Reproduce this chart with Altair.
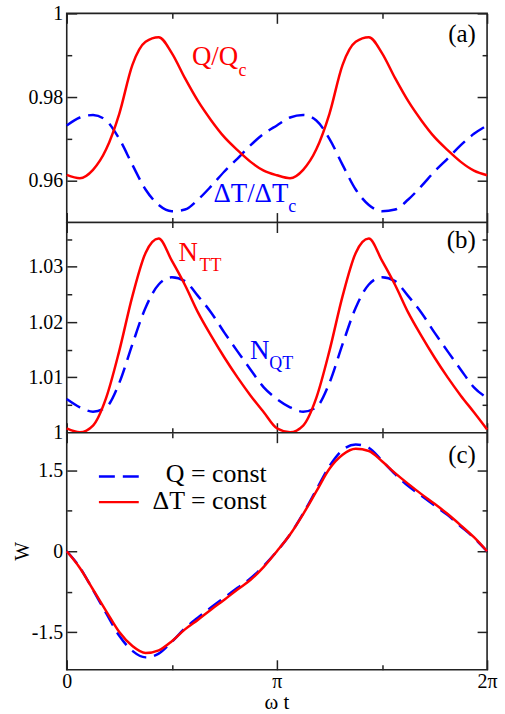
import altair as alt
import pandas as pd

# ---------------- data ----------------
# omega t in units of pi
t_pi = [0.0, 0.0625, 0.125, 0.1875, 0.25, 0.3125, 0.375, 0.4375, 0.5, 0.5625,
        0.625, 0.6875, 0.75, 0.8125, 0.875, 0.9375, 1.0, 1.0625, 1.125, 1.1875,
        1.25, 1.3125, 1.375, 1.4375, 1.5, 1.5625, 1.625, 1.6875, 1.75, 1.8125,
        1.875, 1.9375, 2.0]

# panel (a)
q_ratio = [0.9614, 0.9606, 0.9626, 0.9675, 0.9760, 0.9877, 0.9932, 0.9943, 0.9905,
           0.9845, 0.9790, 0.9744, 0.9704, 0.9673, 0.9645, 0.9624, 0.9613, 0.9606,
           0.9626, 0.9675, 0.9760, 0.9877, 0.9932, 0.9943, 0.9905, 0.9845, 0.9790,
           0.9744, 0.9704, 0.9673, 0.9645, 0.9624, 0.9613]
dt_ratio = [0.9732, 0.9751, 0.9757, 0.9744, 0.9700, 0.9638, 0.9579, 0.9542, 0.9527,
            0.9531, 0.9555, 0.9587, 0.9622, 0.9653, 0.9685, 0.9712, 0.9732, 0.9751,
            0.9757, 0.9744, 0.9700, 0.9638, 0.9579, 0.9542, 0.9527, 0.9531, 0.9555,
            0.9587, 0.9622, 0.9653, 0.9685, 0.9712, 0.9732]

# panel (b)
n_tt = [1.0008, 1.0001, 1.0013, 1.0063, 1.0148, 1.0247, 1.0325, 1.0351, 1.0311,
        1.0267, 1.0217, 1.0175, 1.0136, 1.0100, 1.0067, 1.0037, 1.0008, 1.0001,
        1.0013, 1.0063, 1.0148, 1.0247, 1.0325, 1.0351, 1.0311, 1.0267, 1.0217,
        1.0175, 1.0136, 1.0100, 1.0067, 1.0037, 1.0006]
n_qt = [1.0061, 1.0046, 1.0038, 1.0046, 1.0090, 1.0160, 1.0226, 1.0268, 1.0281,
        1.0274, 1.0247, 1.0217, 1.0181, 1.0147, 1.0114, 1.0082, 1.0061, 1.0046,
        1.0038, 1.0046, 1.0090, 1.0160, 1.0226, 1.0268, 1.0281, 1.0274, 1.0247,
        1.0217, 1.0181, 1.0147, 1.0114, 1.0082, 1.0063]

# panel (c)
w_dt = [0.0, -0.31, -0.71, -1.11, -1.50, -1.76, -1.89, -1.84, -1.67, -1.45, -1.27,
        -1.08, -0.90, -0.71, -0.53, -0.29, 0.0, 0.31, 0.69, 1.11, 1.53, 1.79, 1.90,
        1.86, 1.67, 1.45, 1.25, 1.06, 0.88, 0.69, 0.48, 0.26, 0.0]
w_q = [0.0, -0.30, -0.72, -1.15, -1.57, -1.85, -1.97, -1.90, -1.68, -1.43, -1.23,
       -1.04, -0.86, -0.68, -0.50, -0.27, 0.0, 0.31, 0.70, 1.14, 1.58, 1.88, 1.98,
       1.92, 1.68, 1.43, 1.21, 1.03, 0.85, 0.67, 0.46, 0.25, 0.0]

x_major = [0, 1, 2]
x_minor = [0.5, 1.5]
ya_major = [0.96, 0.98, 1.0]
ya_minor = [0.95, 0.97, 0.99]
yb_major = [1.0, 1.01, 1.02, 1.03]
yb_minor = [1.005, 1.015, 1.025, 1.035]
yc_major = [-1.5, 0, 1.5]
yc_minor = [-0.75, 0.75]

# ---------------- styling ----------------
RED = "#ff0000"
BLUE = "#0000ff"
FRAME = "#222222"
SERIF = "Liberation Serif"
W = 422
ONE = pd.DataFrame({"k": [0]})


def x_axis(orient, values, size, labels=False):
    kw = dict(orient=orient, values=values, tickSize=size, offset=-size,
              labels=labels, domain=False, grid=False, ticks=True,
              tickColor=FRAME, tickWidth=1.5, labelFlush=False)
    if labels:
        kw.update(labelExpr="datum.value == 0 ? '0' : (datum.value == 1 ? 'π' : '2π')",
                  labelFont=SERIF, labelFontSize=20, labelColor="black",
                  labelPadding=2)
    return alt.Axis(**kw)


def y_axis(orient, values, size, labels=False):
    kw = dict(orient=orient, values=values, tickSize=size, offset=-size,
              labels=labels, domain=False, grid=False, ticks=True,
              tickColor=FRAME, tickWidth=1.5)
    if labels:
        kw.update(labelExpr="'' + datum.value", labelFont=SERIF,
                  labelFontSize=20, labelColor="black", labelPadding=4)
    return alt.Axis(**kw)


def text(s, x, y, size, color, align="left", angle=None):
    kw = dict(text=s, align=align, baseline="alphabetic", fontSize=size,
              color=color, font=SERIF)
    if angle is not None:
        kw["angle"] = angle
    return alt.Chart(ONE).mark_text(**kw).encode(x=alt.value(x), y=alt.value(y))


def panel(df, ydom, ymajor, yminor, height, xlabels, extras):
    xs = alt.Scale(domain=[0, 2], nice=False, zero=False)
    ys = alt.Scale(domain=ydom, nice=False, zero=False)
    blue = alt.Chart(df).mark_line(color=BLUE, strokeWidth=2.5, strokeDash=[16, 8],
                                   interpolate="monotone").encode(
        x=alt.X("t:Q", scale=xs, axis=x_axis("top", x_major, 10), title=None),
        y=alt.Y("blue:Q", scale=ys, axis=y_axis("right", ymajor, 10), title=None))
    red = alt.Chart(df).mark_line(color=RED, strokeWidth=2.5,
                                  interpolate="monotone").encode(
        x=alt.X("t:Q", scale=xs, axis=x_axis("bottom", x_major, 10, xlabels), title=None),
        y=alt.Y("red:Q", scale=ys, axis=y_axis("left", ymajor, 10, True), title=None))
    m1 = alt.Chart(df).mark_line(opacity=0).encode(
        x=alt.X("t:Q", scale=xs, axis=x_axis("bottom", x_minor, 5), title=None),
        y=alt.Y("red:Q", scale=ys, axis=y_axis("left", yminor, 5), title=None))
    m2 = alt.Chart(df).mark_line(opacity=0).encode(
        x=alt.X("t:Q", scale=xs, axis=x_axis("top", x_minor, 5), title=None),
        y=alt.Y("red:Q", scale=ys, axis=y_axis("right", yminor, 5), title=None))
    return alt.layer(blue, red, m1, m2, *extras).resolve_axis(
        x="independent", y="independent").properties(
        width=W, height=height,
        view=alt.ViewBackground(stroke=FRAME, strokeWidth=1.6, fill="white"))


df_a = pd.DataFrame({"t": t_pi, "red": q_ratio, "blue": dt_ratio})
df_b = pd.DataFrame({"t": t_pi, "red": n_tt, "blue": n_qt})
df_c = pd.DataFrame({"t": t_pi, "red": w_dt, "blue": w_q})

anchor = alt.Chart(ONE).mark_rect(opacity=0).encode(
    x=alt.value(-66), x2=alt.value(439), y=alt.value(-11), y2=alt.value(703))

extras_a = [
    anchor,
    text("(a)", 410.7, 29, 25, "black", align="right"),
    text("Q/Q", 125.7, 52, 27, RED),
    text("c", 172.5, 62.5, 18, RED),
    text("ΔT/ΔT", 147.3, 189, 27, BLUE),
    text("c", 222.5, 199, 18, BLUE),
]
extras_b = [
    text("(b)", 410.7, 26, 25, "black", align="right"),
    text("N", 112.3, 39, 27, RED),
    text("TT", 133.3, 49, 18, RED),
    text("N", 184, 137.3, 27, BLUE),
    text("QT", 203.3, 147.3, 18, BLUE),
]
legend_blue = alt.Chart(ONE).mark_rule(color=BLUE, strokeWidth=2.5, strokeDash=[16, 8]).encode(
    x=alt.value(32.3), x2=alt.value(72.3), y=alt.value(44))
legend_red = alt.Chart(ONE).mark_rule(color=RED, strokeWidth=2.5).encode(
    x=alt.value(32.3), x2=alt.value(72.3), y=alt.value(69.7))
extras_c = [
    text("(c)", 410.7, 30, 25, "black", align="right"),
    legend_blue, legend_red,
    text("Q = const", 200.7, 49.7, 26, "black", align="right"),
    text("ΔT = const", 200.7, 77, 26, "black", align="right"),
    text("W", -38, 119, 20, "black", align="center", angle=270),
    text("ω t", 211, 277.5, 21, "black", align="center"),
]

pa = panel(df_a, [0.95, 1.0], ya_major, ya_minor, 210, False, extras_a)
pb = panel(df_b, [1.0, 1.038], yb_major, yb_minor, 211, False, extras_b)
pc = panel(df_c, [-2.2, 2.2], yc_major, yc_minor, 238, True, extras_c)

chart = alt.vconcat(pa, pb, pc, spacing=0, bounds="flush").properties(
    padding={"left": 0, "top": 0, "right": 0, "bottom": 0}
).configure(background="white")

chart.save("out.html", embed_options={"renderer": "svg", "actions": False})
